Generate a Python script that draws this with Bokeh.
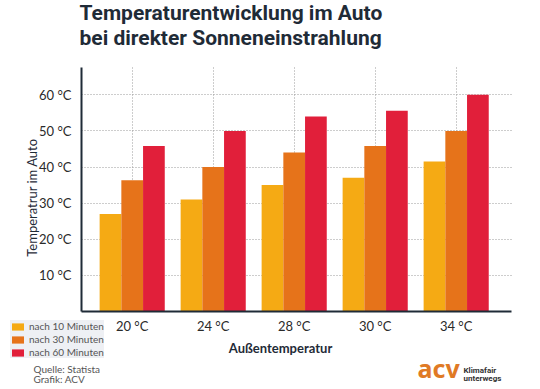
import math
from bokeh.plotting import figure
from bokeh.models import (ColumnDataSource, Range1d, FixedTicker, Label, Legend,
                          LegendItem)
from bokeh.transform import dodge
from bokeh.embed import file_html
from bokeh.resources import INLINE

# ---- data ----
categories = ["20 °C", "24 °C", "28 °C", "30 °C", "34 °C"]
nach_10 = [27, 31, 35, 37, 41.5]
nach_30 = [36.3, 40, 44, 45.8, 50]
nach_60 = [45.8, 50, 54, 55.6, 60]
series_names = ["nach 10 Minuten", "nach 30 Minuten", "nach 60 Minuten"]
y_ticks = [10, 20, 30, 40, 50, 60]
y_tick_labels = ["10 °C", "20 °C", "30 °C", "40 °C", "50 °C", "60 °C"]

title_lines = ["Temperaturentwicklung im Auto", "bei direkter Sonneneinstrahlung"]
x_title = "Außentemperatur"
y_title = "Temperatrur im Auto"
source_lines = ["Quelle: Statista", "Grafik: ACV"]
logo_word = "acv"
logo_claim = ["Klimafair", "unterwegs"]

colors = ["#f5aa14", "#e6731a", "#e11f3a"]
DARK = "#1f2b37"
FONT = "Lato"

xpos = list(range(len(categories)))
src = ColumnDataSource(dict(x=xpos, t10=nach_10, t30=nach_30, t60=nach_60))

# plot area (in data units) inside a frame that covers the whole canvas
X0, X1 = -0.626, 4.684      # plot area left / right
Y0, Y1 = 0, 67.5            # plot area bottom / top

p = figure(width=540, height=389, output_backend="svg", toolbar_location=None,
           x_range=Range1d(-1.626, 5.041), y_range=Range1d(-21.6, 86.1),
           min_border_left=0, min_border_right=0, min_border_top=0,
           min_border_bottom=0)
p.title.visible = False
p.outline_line_color = None
p.background_fill_color = "white"
p.border_fill_color = "white"

bw = 0.268
renderers = []
for field, off, c in zip(["t10", "t30", "t60"], [-bw, 0, bw], colors):
    r = p.vbar(x=dodge("x", off), top=field, width=bw, source=src,
               fill_color=c, line_color=None)
    renderers.append(r)

# axes
xa, ya = p.xaxis[0], p.yaxis[0]
xa.fixed_location = Y0
ya.fixed_location = X0
xa.bounds = (X0, X1)
ya.bounds = (Y0, Y1)
xa.ticker = FixedTicker(ticks=xpos)
xa.major_label_overrides = {i: c for i, c in zip(xpos, categories)}
ya.ticker = FixedTicker(ticks=y_ticks)
ya.major_label_overrides = {t: l for t, l in zip(y_ticks, y_tick_labels)}
for ax in (xa, ya):
    ax.axis_line_color = DARK
    ax.axis_line_width = 2
    ax.major_tick_line_color = None
    ax.minor_tick_line_color = None
    ax.major_label_text_font = FONT
    ax.major_label_text_font_size = "13px"
    ax.major_label_text_color = "#2a2a2a"
ya.major_label_standoff = 4
xa.major_label_standoff = 1

# grid
p.xgrid.ticker = FixedTicker(ticks=xpos)
p.ygrid.ticker = FixedTicker(ticks=y_ticks)
p.xgrid.cross_bounds = (Y0, Y1)
p.ygrid.cross_bounds = (X0, X1)
p.xgrid.bounds = (X0, X1)
p.ygrid.bounds = (Y0, Y1)
p.grid.grid_line_color = "#9a9a9a"
p.grid.grid_line_dash = "1 2"
p.grid.grid_line_width = 1

H = 389
def lab(x, y_top, text, **kw):
    p.add_layout(Label(x=x, y=H - y_top, x_units="screen", y_units="screen",
                       text=text, **kw))

# titles
lab(79, 24, title_lines[0], text_font="Roboto", text_font_style="bold",
    text_font_size="21px", text_color=DARK)
lab(79, 49, title_lines[1], text_font="Roboto", text_font_style="bold",
    text_font_size="21px", text_color=DARK)

# axis titles
lab(280, 355, x_title, text_font=FONT, text_font_style="bold",
    text_font_size="13px", text_color=DARK, text_align="center")
lab(31, 197, y_title, text_font=FONT, text_font_size="13px", text_color=DARK,
    text_align="center", text_baseline="middle", angle=math.pi / 2)

# legend
items = [LegendItem(label=n, renderers=[r]) for n, r in zip(series_names, renderers)]
legend = Legend(items=items, location=(10, H - 358), orientation="vertical",
                background_fill_color="#eef0f4", background_fill_alpha=1,
                border_line_color=None, label_text_font=FONT,
                label_text_font_size="10px", label_text_color="#555555",
                glyph_width=15, glyph_height=9, label_height=9, label_width=60,
                spacing=1, padding=3, margin=0, label_standoff=4)
p.add_layout(legend, "center")

# source
lab(33, 374, source_lines[0], text_font=FONT, text_font_size="10px",
    text_color="#555555")
lab(33, 384, source_lines[1], text_font=FONT, text_font_size="10px",
    text_color="#555555")

# logo
lab(417, 384, logo_word, text_font="Noto Sans", text_font_style="bold",
    text_font_size="25px", text_color="#e07a25")
lab(463, 374, logo_claim[0], text_font="Roboto", text_font_style="bold",
    text_font_size="8px", text_color="#333333")
lab(463, 382, logo_claim[1], text_font="Roboto", text_font_style="bold",
    text_font_size="8px", text_color="#333333")

open("out.html", "w").write(file_html(p, INLINE))
